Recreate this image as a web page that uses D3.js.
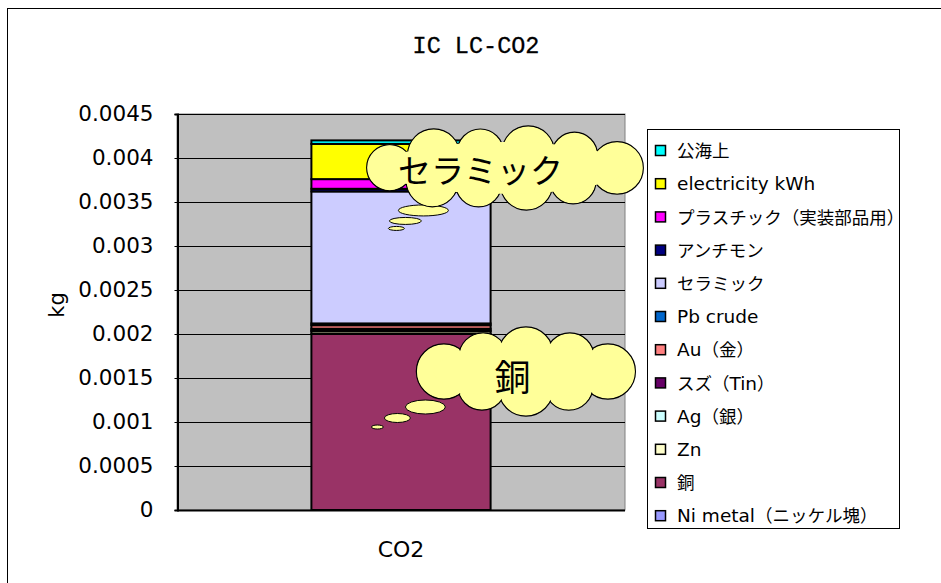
<!DOCTYPE html>
<html>
<head>
<meta charset="utf-8">
<script src="https://cdn.jsdelivr.net/npm/d3@7"></script>
<style>
  html, body { margin: 0; padding: 0; background: #fff; }
  svg { display: block; font-family: "Noto Sans CJK JP", "Noto Sans", sans-serif; }
</style>
</head>
<body>
<svg id="chart" width="941" height="583"></svg>
<script>
// Category on the x axis
const categories = ["CO2"];

// Stack order, bottom to top
const seriesNames = [
  "Ni metal（ニッケル塊）", "銅", "Zn", "Ag（銀）", "スズ（Tin）", "Au（金）",
  "Pb crude", "セラミック", "アンチモン", "プラスチック（実装部品用）",
  "electricity kWh", "公海上"
];
const seriesValues = [
  0, 0.002, 0.00003, 0.00001, 0.00002, 0.00004,
  0.00002, 0.0015, 0.00003, 0.00011, 0.0004, 0.00004
];
const seriesColors = [
  "#9999FF", "#993366", "#FFFFCC", "#CCFFFF", "#660066", "#FF8080",
  "#0066CC", "#CCCCFF", "#000080", "#FF00FF", "#FFFF00", "#00FFFF"
];
const yTicks = [0, 0.0005, 0.001, 0.0015, 0.002, 0.0025, 0.003, 0.0035, 0.004, 0.0045];
const yTickLabels = ["0", "0.0005", "0.001", "0.0015", "0.002", "0.0025", "0.003", "0.0035", "0.004", "0.0045"];

// Callout clouds: text and the series they point at
const callouts = [
  { text: "セラミック", series: "セラミック" },
  { text: "銅", series: "銅" }
];

const latinFont = "'DejaVu Sans', sans-serif";
const svg = d3.select("#chart");

// chart frame
svg.append("rect").attr("x", 7.5).attr("y", 8.5).attr("width", 940).attr("height", 600)
  .attr("fill", "#fff").attr("stroke", "#000").attr("stroke-width", 1);

const plot = { left: 177, right: 625, top: 114, bottom: 510 };

const x = d3.scaleBand().domain(categories).range([plot.left, plot.right])
  .paddingInner(0.6).paddingOuter(0.3);
const y = d3.scaleLinear().domain([0, 0.0045]).range([plot.bottom, plot.top]);

// plot area background
svg.append("rect").attr("x", plot.left).attr("y", plot.top)
  .attr("width", plot.right - plot.left).attr("height", plot.bottom - plot.top)
  .attr("fill", "#C0C0C0").attr("stroke", "#808080").attr("stroke-width", 1);

// gridlines
svg.append("g").selectAll("line").data(yTicks.slice(1)).join("line")
  .attr("x1", plot.left).attr("x2", plot.right)
  .attr("y1", d => Math.round(y(d)) + 0.5).attr("y2", d => Math.round(y(d)) + 0.5)
  .attr("stroke", "#000").attr("stroke-width", 1);

// y axis
const yAxis = d3.axisLeft(y).tickValues(yTicks)
  .tickFormat((d, i) => yTickLabels[i]).tickSize(3).tickPadding(21);
const gy = svg.append("g").attr("transform", `translate(${plot.left + 0.5},0)`).call(yAxis);
gy.select(".domain").attr("stroke", "#000").attr("stroke-width", 2);
gy.selectAll(".tick line").attr("stroke", "#000");
gy.selectAll(".tick text").attr("font-size", 21.5).attr("fill", "#000")
  .attr("font-family", latinFont);

// x axis
const xAxis = d3.axisBottom(x).tickSize(0).tickPadding(31);
const gx = svg.append("g").attr("transform", `translate(0,${plot.bottom})`).call(xAxis);
gx.select(".domain").attr("stroke", "#000").attr("stroke-width", 2).attr("d", `M${plot.left},0.5H${plot.right}`);
gx.selectAll(".tick text").attr("font-size", 22).attr("fill", "#000")
  .attr("font-family", latinFont);

// stacked bar
const row = {};
seriesNames.forEach((n, i) => row[n] = seriesValues[i]);
const stacked = d3.stack().keys(seriesNames)([Object.assign({ cat: categories[0] }, row)]);

svg.append("g").selectAll("rect").data(stacked).join("rect")
  .attr("x", x(categories[0]))
  .attr("width", x.bandwidth())
  .attr("y", d => y(d[0][1]))
  .attr("height", d => y(d[0][0]) - y(d[0][1]))
  .attr("fill", (d, i) => seriesColors[i])
  .attr("stroke", "#000").attr("stroke-width", 2);

// title and axis title
svg.append("text").attr("x", 476).attr("y", 53).attr("text-anchor", "middle")
  .attr("font-size", 23.5).attr("font-family", "'Liberation Mono', monospace")
  .attr("stroke", "#000").attr("stroke-width", 0.3)
  .text("IC LC-CO2");
svg.append("text").attr("transform", "translate(64,305) rotate(-90)")
  .attr("text-anchor", "middle").attr("font-size", 21)
  .attr("font-family", latinFont).text("kg");

// legend
const legend = svg.append("g");
legend.append("rect").attr("x", 647.5).attr("y", 129.5).attr("width", 252).attr("height", 399)
  .attr("fill", "#fff").attr("stroke", "#000").attr("stroke-width", 1);
const legendOrder = seriesNames.map((n, i) => ({ name: n, color: seriesColors[i] })).reverse();
const li = legend.selectAll("g.item").data(legendOrder).join("g")
  .attr("class", "item")
  .attr("transform", (d, i) => `translate(655,${151 + i * 33.2})`);
li.append("rect").attr("x", 0.5).attr("y", -5.5).attr("width", 10).attr("height", 10)
  .attr("fill", d => d.color).attr("stroke", "#000").attr("stroke-width", 1.5);
const lt = li.append("text").attr("x", 22).attr("y", 0).attr("dy", "0.36em")
  .attr("font-size", 17).attr("fill", "#000");
// Latin runs get a wider face; Japanese runs keep the CJK face
lt.each(function (d) {
  const parts = d.name.split(/([\x20-\x7E]+)/).filter(s => s.length);
  d3.select(this).selectAll("tspan").data(parts).join("tspan")
    .attr("font-family", s => /^[\x20-\x7E]+$/.test(s) ? latinFont : "'Noto Sans CJK JP', sans-serif")
    .attr("font-size", s => /^[\x20-\x7E]+$/.test(s) ? 18.5 : 17.5)
    .text(s => s);
});

// cloud callout: bumps spaced evenly along an ellipse inside the box
function cloud(g, box, bubbles, label, tx, ty, fontSize) {
  const W = box.x1 - box.x0, H = box.y1 - box.y0;
  const cx = (box.x0 + box.x1) / 2, cy = (box.y0 + box.y1) / 2;
  const r = H * 0.3;
  const a = W / 2 - r, b = H / 2 - r;
  const samples = d3.range(401).map(k => {
    const t = (k / 400) * Math.PI * 2;
    return [cx + a * Math.cos(t), cy + b * Math.sin(t)];
  });
  const cum = [0];
  for (let k = 1; k < samples.length; k++) {
    cum.push(cum[k - 1] + Math.hypot(samples[k][0] - samples[k - 1][0], samples[k][1] - samples[k - 1][1]));
  }
  const total = cum[cum.length - 1];
  // even count so one bump sits at each end of the long axis
  let n = Math.max(8, Math.round(total / (r * 1.9)));
  if (n % 2) n += 1;
  const bumps = d3.range(n).map(k => {
    const target = (k / n) * total;
    const idx = Math.min(samples.length - 1, d3.bisectLeft(cum, target));
    const rr = r * (k % 2 ? 0.95 : 1.08);
    return { x: samples[idx][0], y: samples[idx][1], r: rr };
  });
  const fill = "#FFFF99";
  g.selectAll("ellipse.b").data(bubbles).join("ellipse").attr("class", "b")
    .attr("cx", d => d[0]).attr("cy", d => d[1]).attr("rx", d => d[2]).attr("ry", d => d[3])
    .attr("fill", fill).attr("stroke", "#000").attr("stroke-width", 1);
  g.append("g").selectAll("circle").data(bumps).join("circle")
    .attr("cx", d => d.x).attr("cy", d => d.y).attr("r", d => d.r)
    .attr("fill", fill).attr("stroke", "#000").attr("stroke-width", 1.2);
  g.append("g").selectAll("circle").data(bumps).join("circle")
    .attr("cx", d => d.x).attr("cy", d => d.y).attr("r", d => d.r - 1)
    .attr("fill", fill);
  g.append("ellipse").attr("cx", cx).attr("cy", cy).attr("rx", a + r * 0.4).attr("ry", b + r * 0.4)
    .attr("fill", fill);
  g.append("text").attr("x", tx).attr("y", ty).attr("dy", "0.36em").attr("text-anchor", "middle")
    .attr("font-size", fontSize).attr("fill", "#000").text(label);
}

// place each cloud relative to the segment it labels
const segTop = name => y(stacked[seriesNames.indexOf(name)][0][1]);
const barX = x(categories[0]);

const c1 = callouts[0];
const t1 = segTop(c1.series);
cloud(svg.append("g"), { x0: barX + 54, x1: barX + 330, y0: t1 - 64, y1: t1 + 17 },
  [[barX + 112, t1 + 19, 25, 5.5], [barX + 94, t1 + 29.5, 16, 3.5], [barX + 85, t1 + 37, 8, 2]],
  c1.text, barX + 169, t1 - 20, 33);

const c2 = callouts[1];
const t2 = segTop(c2.series);
cloud(svg.append("g"), { x0: barX + 107, x1: barX + 322, y0: t2 - 5, y1: t2 + 80 },
  [[barX + 114, t2 + 73, 20, 7], [barX + 86, t2 + 84, 13, 4.5], [barX + 66, t2 + 93, 6, 2]],
  c2.text, barX + 201, t2 + 44, 36);
</script>
</body>
</html>
